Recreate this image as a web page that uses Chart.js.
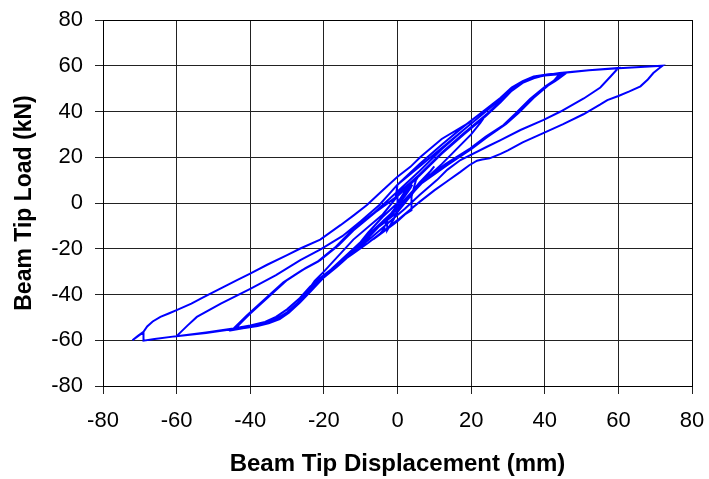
<!DOCTYPE html>
<html>
<head>
<meta charset="utf-8">
<script src="https://cdn.jsdelivr.net/npm/chart.js@4.4.1/dist/chart.umd.min.js"></script>
<style>
  html, body { margin: 0; padding: 0; background: #fff; }
</style>
</head>
<body>
<canvas id="graficoViga" width="709" height="479"></canvas>
<script>
// small cycles around the origin
const smallDisp = [0, 1.5, 3, 4, 3.5, 2, 0, -1.5, -3, -3.5, -2.5, -1, 0, 2, 4, 6, 5, 3.8, 3.8, 2, 0, -2.5, -5, -4, -2.8, -2.8, -1, 0, 3, 6, 9, 10, 8, 4, 0, -4, -8, -10, -8, -4, 0];
const smallLoad = [0, 3, 6, 8, 6.5, 3, -1, -4, -7.5, -9, -6.5, -3, 0, 5, 9, 12.5, 10, 2.7, -3.1, -5, -8, -11, -14, -12, -8.2, -11.9, -7, -3, 3, 9, 14, 16, 12, 4, -4, -9, -14, -17, -13, -6, 0];

// +/-24 mm cycle
const midDisp = [0, 6, 12, 18, 24, 22.5, 20, 12, 4, 0, -10, -18, -24, -22.5, -20, -12, -4, 0];
const midLoad = [3, 12, 21.5, 30.5, 38.5, 35, 30, 17, 5, -2, -17, -29, -37.5, -34, -30, -16, -5, 3];

// +/-45 mm cycles (three repeats)
const c45Disp = [0, 6, 12, 18, 24, 28, 31, 34, 37, 40, 44, 42.5, 40.2, 36, 32, 28.8, 24, 19.8, 13, 6.3, 3, 0, -4, -7.4, -12, -16.4, -20, -23.7, -26.5, -30, -32.5, -35, -38, -41, -44,
  -42, -40, -35, -30, -25, -21, -16, -12, -6,
  0, 6, 12, 18, 24, 28, 31, 34, 37, 40, 45, 43, 40.5, 36.5, 32.5, 29, 24.5, 20, 13.5, 6.5, 3, 0, -4, -7.5, -12, -16.5, -20, -23.5, -26.5, -29.5, -32, -35, -38, -41.5, -44.5,
  -42.5, -40.5, -35.5, -30.5, -25.5, -21.5, -16.5, -12.5, -6.5,
  0, 6, 12, 18, 24, 28, 31, 34, 37, 41, 46, 43.5, 41, 37, 33, 29.5, 25, 20.5, 14, 7, 3.5, 0.5, -3.5, -7, -11.5, -16, -19.5, -23, -26, -29, -32, -35, -38.5, -42, -45,
  -43, -41, -36, -31, -26, -22, -17, -13, -7, -0.5];
const c45Load = [4, 12.5, 22, 30.5, 38.5, 44.5, 49.5, 52.8, 54.8, 55.7, 56.3, 53.5, 51, 45.5, 39, 34.1, 29, 23.9, 17, 9, 3, -2, -8, -14, -21, -27.5, -32, -38, -43, -48, -50.5, -52.3, -53.5, -54.3, -54.8,
  -51.5, -48.3, -41, -33.7, -28.5, -25, -18.5, -12, -4,
  3, 12, 21.5, 30, 38, 44, 49, 52.5, 54.5, 55.8, 56.7, 53.5, 51, 45.5, 39, 34, 29, 23.5, 16.5, 8.5, 2.5, -2.5, -8.5, -14.5, -21.5, -28, -32.5, -38.5, -43.5, -48, -50.8, -52.6, -53.8, -54.7, -55.2,
  -52, -48.8, -41.5, -34.2, -29, -25.5, -19, -12.5, -4.5,
  5, 14, 23.5, 32, 40, 45.5, 50.5, 53.3, 55.3, 56.3, 57, 54, 51.5, 46, 39.5, 34.5, 29.5, 24.5, 17.5, 9.5, 3.5, -1.5, -7.5, -13.5, -20.5, -27, -31.5, -37.5, -42.5, -47, -50, -52.2, -53.6, -54.8, -55.6,
  -52.5, -49.3, -42, -34.7, -29.5, -26, -19.5, -13, -5, 2.5];

// +/-60 mm cycle
const c60Disp = [0, 6, 12, 18, 24, 28, 31, 34, 38, 44, 52, 60, 58, 55.1, 50.6, 44.3, 39.7, 33.4, 28, 24.3, 17.1, 13.5, 10.7, 6, 2, -2, -7, -12, -16.4, -20, -23.7, -27, -30, -33, -36, -40, -45, -52, -60,
  -57, -54.5, -48, -40, -33, -26.4, -20.9, -15, -10, -5];
const c60Load = [8, 16, 24, 32, 40, 45.5, 50, 53, 55.3, 56.8, 58, 59, 55.5, 50.5, 45.7, 40, 36.3, 31.9, 27.5, 24.6, 18.8, 14.5, 10, 3.5, -2.5, -8, -15, -21.5, -27.3, -31.5, -37.5, -43.5, -47.8, -50.8, -52.6, -53.9, -55.2, -56.8, -58.2,
  -53.5, -49.8, -44, -37.5, -31.5, -25, -20.3, -14.5, -8, -1];

// +/-72 mm cycle
const c72Disp = [0, 6, 12, 18, 24, 28, 31, 34, 38, 44.2, 52, 60.1, 66, 72,
  71, 69.5, 68, 66, 63, 60, 57, 55, 50.5, 45, 40.2, 34, 30, 28, 25, 23, 21.6, 19.5, 17, 13.5, 10, 6, 3, 0, -4, -8, -12, -16.4, -20, -23.7, -26.5, -30, -33, -36, -40, -44.6, -52, -60, -66, -69, -69, -72,
  -70.5, -69, -68, -66.5, -64.4, -62, -60, -56, -52.8, -48, -43.6, -39.9, -35.4, -30, -26.4, -21, -15.5, -12, -8.3, -4, 0, 3.5, 6.3, 12, 19.8];
const c72Load = [8, 17, 25.5, 33.5, 41, 46, 50.5, 53.3, 55.3, 56.7, 58, 58.9, 59.5, 60,
  58.8, 56.8, 54, 51, 48.8, 46.8, 45, 43, 38.8, 34.5, 31, 26.5, 23, 21.5, 19.5, 19, 18.5, 16.5, 13.5, 9.5, 5.5, 0.5, -3.5, -7.5, -12.5, -17.5, -22, -27, -31.5, -36.5, -41.5, -46.5, -49.8, -52, -53.5, -54.9, -56.6, -58.2, -59.5, -60.2, -56.5, -60,
  -58, -56.3, -54, -51.8, -49.8, -48.2, -46.8, -44, -41.3, -37.3, -33.7, -30.8, -27, -22.8, -19.9, -16, -9.7, -5.5, -0.9, 5.6, 11.5, 15.8, 20.2, 28, 35.5];

const xTicks = [-80, -60, -40, -20, 0, 20, 40, 60, 80];
const yTicks = [-80, -60, -40, -20, 0, 20, 40, 60, 80];

const dispAll = [].concat(smallDisp, midDisp, c45Disp, c60Disp, c72Disp);
const loadAll = [].concat(smallLoad, midLoad, c45Load, c60Load, c72Load);
const pontos = dispAll.map((d, i) => ({x: d, y: loadAll[i]}));

const fonte = "'Liberation Sans', Arial, sans-serif";

const ctxViga = document.getElementById('graficoViga').getContext('2d');

new Chart(ctxViga, {
    type: 'scatter',
    data: {
        datasets: [{
            data: pontos,
            showLine: true,
            borderColor: '#0000ff',
            borderWidth: 2,
            pointRadius: 0,
            fill: false,
            tension: 0
        }]
    },
    options: {
        responsive: false,
        animation: false,
        layout: {padding: {left: 0, top: 20, right: 17, bottom: 0}},
        plugins: {
            legend: {display: false},
            tooltip: {enabled: false}
        },
        scales: {
            x: {
                type: 'linear',
                min: -80,
                max: 80,
                afterBuildTicks: scale => { scale.ticks = xTicks.map(v => ({value: v})); },
                afterFit: scale => {
                    scale.height = 93;
                    scale.paddingLeft = 0;
                    scale.paddingRight = 0;
                },
                ticks: {color: '#000', padding: 14, font: {family: fonte, size: 22}},
                grid: {color: '#222', lineWidth: 1, tickLength: 8},
                border: {color: '#000', width: 1},
                title: {
                    display: true,
                    text: 'Beam Tip Displacement (mm)',
                    color: '#000',
                    padding: {top: 0, bottom: 0},
                    font: {family: fonte, size: 24, weight: 'bold'}
                }
            },
            y: {
                type: 'linear',
                min: -80,
                max: 80,
                afterBuildTicks: scale => { scale.ticks = yTicks.map(v => ({value: v})); },
                afterFit: scale => {
                    scale.width = 103;
                    scale.paddingTop = 0;
                    scale.paddingBottom = 0;
                },
                ticks: {color: '#000', padding: 12, font: {family: fonte, size: 22}},
                grid: {color: '#222', lineWidth: 1, tickLength: 8},
                border: {color: '#000', width: 1},
                title: {
                    display: true,
                    text: 'Beam Tip Load (kN)',
                    color: '#000',
                    padding: {top: 11, bottom: 0},
                    font: {family: fonte, size: 23, weight: 'bold'}
                }
            }
        }
    },
    plugins: [{
        id: 'bordaTopo',
        afterDraw(chart) {
            const {ctx, chartArea: a} = chart;
            ctx.save();
            ctx.strokeStyle = '#000';
            ctx.lineWidth = 1;
            ctx.strokeRect(Math.round(a.left) + 0.5, Math.round(a.top) + 0.5, Math.round(a.right - a.left), Math.round(a.bottom - a.top));
            ctx.restore();
        }
    }]
});
</script>
</body>
</html>
